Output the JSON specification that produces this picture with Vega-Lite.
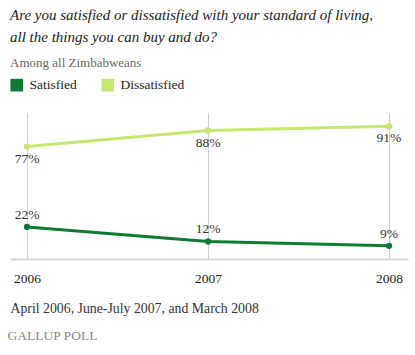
{
  "$schema": "https://vega.github.io/schema/vega-lite/v6.json",
  "width": 398,
  "height": 146,
  "autosize": {"type": "none"},
  "padding": {"left": 10, "top": 113, "right": 7, "bottom": 96},
  "background": "white",
  "title": {
    "text": ["Are you satisfied or dissatisfied with your standard of living,", "all the things you can buy and do?"],
    "subtitle": "Among all Zimbabweans",
    "anchor": "start",
    "frame": "group",
    "font": "Liberation Serif",
    "fontStyle": "italic",
    "fontWeight": "normal",
    "fontSize": 15,
    "lineHeight": 22,
    "color": "#222222",
    "subtitleFont": "Liberation Serif",
    "subtitleFontSize": 13,
    "subtitleColor": "#666666",
    "subtitlePadding": 12,
    "offset": 8
  },
  "config": {
    "view": {"stroke": null},
    "font": "Liberation Serif"
  },
  "data": {
    "values": [
      {"year": 2006, "series": "Satisfied", "value": 0.22},
      {"year": 2007, "series": "Satisfied", "value": 0.12},
      {"year": 2008, "series": "Satisfied", "value": 0.09},
      {"year": 2006, "series": "Dissatisfied", "value": 0.77},
      {"year": 2007, "series": "Dissatisfied", "value": 0.88},
      {"year": 2008, "series": "Dissatisfied", "value": 0.91}
    ]
  },
  "resolve": {"axis": {"x": "independent"}},
  "layer": [
    {
      "mark": {"type": "line", "strokeWidth": 3},
      "encoding": {
        "x": {
          "field": "year", "type": "quantitative",
          "scale": {"domain": [2005.906, 2008.105], "nice": false, "zero": false},
          "axis": {
            "values": [2006, 2007, 2008], "format": "d",
            "grid": true, "gridColor": "#cccccc", "gridWidth": 1,
            "ticks": false, "domainColor": "#d4d4d0", "domainWidth": 2,
            "labelFont": "Liberation Serif", "labelFontSize": 13.5, "labelColor": "#222222",
            "labelPadding": 12,
            "title": "April 2006, June-July 2007, and March 2008",
            "titleFont": "Liberation Serif", "titleFontSize": 13.8, "titleFontWeight": "normal",
            "titleColor": "#333333", "titleAnchor": "start", "titleAlign": "left",
            "titleBaseline": "alphabetic", "titleX": 0, "titleY": 53
          }
        },
        "y": {"field": "value", "type": "quantitative", "scale": {"domain": [0, 1]}, "axis": null},
        "color": {
          "field": "series", "type": "nominal",
          "scale": {"domain": ["Satisfied", "Dissatisfied"], "range": ["#0f7a36", "#c6e670"]},
          "legend": {
            "title": null, "orient": "none", "direction": "horizontal",
            "legendX": 0, "legendY": -35,
            "symbolType": "square", "symbolSize": 160, "symbolStrokeWidth": 0,
            "symbolOpacity": 1,
            "labelFont": "Liberation Serif", "labelFontSize": 13.5, "labelColor": "#222222",
            "labelOffset": 6, "columnPadding": 24, "padding": 0
          }
        }
      }
    },
    {
      "mark": {"type": "point", "filled": true, "size": 40, "opacity": 1},
      "encoding": {
        "x": {
          "field": "year", "type": "quantitative",
          "axis": {
            "labels": false, "ticks": false, "domain": false, "grid": false,
            "orient": "bottom", "offset": 0,
            "title": "GALLUP POLL",
            "titleFont": "Liberation Serif", "titleFontSize": 13.5, "titleFontWeight": "normal",
            "titleColor": "#888888", "titleAnchor": "start", "titleAlign": "left",
            "titleBaseline": "alphabetic", "titleX": -3, "titleY": 80
          }
        },
        "y": {"field": "value", "type": "quantitative"},
        "color": {"field": "series", "type": "nominal", "legend": null}
      }
    },
    {
      "transform": [{"filter": "datum.series == 'Satisfied'"}],
      "mark": {"type": "text", "dy": -12, "font": "Liberation Serif", "fontSize": 13.5, "color": "#333333"},
      "encoding": {
        "x": {"field": "year", "type": "quantitative", "axis": null},
        "y": {"field": "value", "type": "quantitative"},
        "text": {"field": "value", "type": "quantitative", "format": ".0%"}
      }
    },
    {
      "transform": [{"filter": "datum.series == 'Dissatisfied'"}],
      "mark": {"type": "text", "dy": 12, "font": "Liberation Serif", "fontSize": 13.5, "color": "#333333"},
      "encoding": {
        "x": {"field": "year", "type": "quantitative", "axis": null},
        "y": {"field": "value", "type": "quantitative"},
        "text": {"field": "value", "type": "quantitative", "format": ".0%"}
      }
    }
  ]
}
